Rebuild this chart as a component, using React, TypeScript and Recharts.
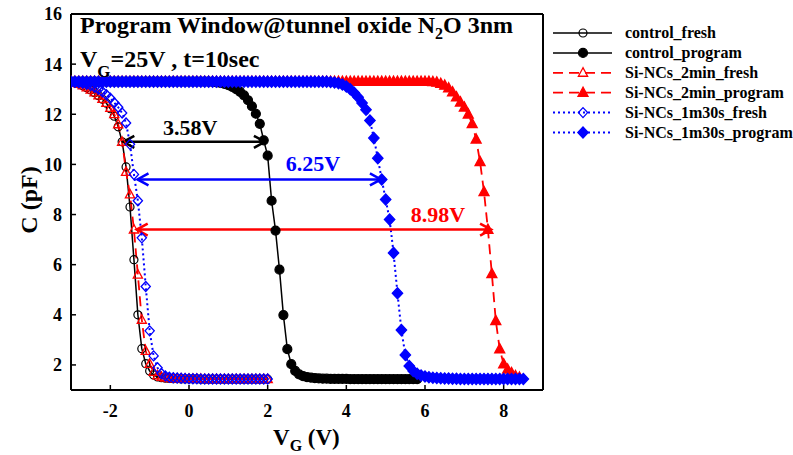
import React from "react";
import { LineChart, Line, XAxis, YAxis, ReferenceLine, ReferenceDot } from "recharts";

const FONT = "'Liberation Serif', 'Times New Roman', serif";

// gate voltage sweep (V), shared by all curves
const vg = [
  -3, -2.9, -2.8, -2.7, -2.6, -2.5, -2.4, -2.3, -2.2, -2.1,
  -2, -1.9, -1.8, -1.7, -1.6, -1.5, -1.4, -1.3, -1.2, -1.1,
  -1, -0.9, -0.8, -0.7, -0.6, -0.5, -0.4, -0.3, -0.2, -0.1,
  0, 0.1, 0.2, 0.3, 0.4, 0.5, 0.6, 0.7, 0.8, 0.9,
  1, 1.1, 1.2, 1.3, 1.4, 1.5, 1.6, 1.7, 1.8, 1.9,
  2, 2.1, 2.2, 2.3, 2.4, 2.5, 2.6, 2.7, 2.8, 2.9,
  3, 3.1, 3.2, 3.3, 3.4, 3.5, 3.6, 3.7, 3.8, 3.9,
  4, 4.1, 4.2, 4.3, 4.4, 4.5, 4.6, 4.7, 4.8, 4.9,
  5, 5.1, 5.2, 5.3, 5.4, 5.5, 5.6, 5.7, 5.8, 5.9,
  6, 6.1, 6.2, 6.3, 6.4, 6.5, 6.6, 6.7, 6.8, 6.9,
  7, 7.1, 7.2, 7.3, 7.4, 7.5, 7.6, 7.7, 7.8, 7.9,
  8, 8.1, 8.2, 8.3, 8.4, 8.5,
];

// capacitance (pF), starting at vg[0]
const controlFresh = [
  13.3, 13.26, 13.21, 13.14, 13.06, 12.97, 12.86, 12.74, 12.6, 12.44,
  12.22, 11.92, 11.5, 10.9, 9.9, 8.3, 6.2, 4.0, 2.65, 2.05,
  1.76, 1.6, 1.52, 1.49, 1.47, 1.46, 1.45, 1.45, 1.44, 1.44,
  1.44, 1.44, 1.44, 1.43, 1.43, 1.43, 1.43, 1.43, 1.43, 1.43,
  1.43, 1.43, 1.43, 1.43, 1.43, 1.43, 1.43, 1.43, 1.43, 1.43,
  1.43,
];

const controlProgram = [
  13.3, 13.3, 13.3, 13.3, 13.3, 13.3, 13.3, 13.3, 13.3, 13.3,
  13.3, 13.3, 13.3, 13.3, 13.3, 13.3, 13.3, 13.3, 13.3, 13.3,
  13.3, 13.3, 13.3, 13.3, 13.3, 13.3, 13.3, 13.3, 13.3, 13.3,
  13.3, 13.3, 13.3, 13.3, 13.3, 13.3, 13.29, 13.27, 13.25, 13.21,
  13.16, 13.09, 13.0, 12.89, 12.75, 12.56, 12.32, 12.02, 11.62, 10.96,
  10.35, 8.55, 7.36, 5.8, 3.99, 2.63, 2.03, 1.76, 1.62, 1.55,
  1.51, 1.49, 1.47, 1.46, 1.45, 1.45, 1.44, 1.44, 1.44, 1.44,
  1.44, 1.43, 1.43, 1.43, 1.43, 1.43, 1.43, 1.43, 1.43, 1.43,
  1.43, 1.43, 1.43, 1.43, 1.43, 1.43, 1.43, 1.43, 1.43,
];

const twoMinFresh = [
  13.3, 13.26, 13.21, 13.15, 13.07, 12.98, 12.87, 12.75, 12.61, 12.45,
  12.25, 12.0, 11.6, 10.9, 9.7, 8.8, 7.4, 5.6, 3.8, 2.56,
  2.04, 1.72, 1.58, 1.52, 1.49, 1.47, 1.46, 1.45, 1.45, 1.44,
  1.44, 1.44, 1.44, 1.44, 1.43, 1.43, 1.43, 1.43, 1.43, 1.43,
  1.43, 1.43, 1.43, 1.43, 1.43, 1.43, 1.43, 1.43, 1.43, 1.43,
  1.43,
];

const twoMinProgram = [
  13.3, 13.3, 13.3, 13.3, 13.3, 13.3, 13.3, 13.3, 13.3, 13.3,
  13.3, 13.3, 13.3, 13.3, 13.3, 13.3, 13.3, 13.3, 13.3, 13.3,
  13.3, 13.3, 13.3, 13.3, 13.3, 13.3, 13.3, 13.3, 13.3, 13.3,
  13.3, 13.3, 13.3, 13.3, 13.3, 13.3, 13.3, 13.3, 13.3, 13.3,
  13.3, 13.3, 13.3, 13.3, 13.3, 13.3, 13.3, 13.3, 13.3, 13.3,
  13.3, 13.3, 13.3, 13.3, 13.3, 13.3, 13.3, 13.3, 13.3, 13.3,
  13.3, 13.3, 13.3, 13.3, 13.3, 13.3, 13.3, 13.3, 13.3, 13.3,
  13.3, 13.3, 13.3, 13.3, 13.3, 13.3, 13.3, 13.3, 13.3, 13.3,
  13.3, 13.3, 13.3, 13.3, 13.3, 13.3, 13.3, 13.3, 13.3, 13.3,
  13.3, 13.3, 13.29, 13.27, 13.22, 13.15, 13.04, 12.88, 12.68, 12.48,
  12.28, 12.0, 11.62, 11.0, 10.1, 8.9, 7.4, 5.63, 3.76, 2.63,
  2.03, 1.82, 1.68, 1.56, 1.5,
];

const oneMinFresh = [
  13.3, 13.29, 13.27, 13.24, 13.2, 13.15, 13.08, 13.0, 12.9, 12.78,
  12.64, 12.46, 12.28, 12.05, 11.65, 10.8, 9.6, 8.55, 7.07, 5.13,
  3.36, 2.36, 1.89, 1.66, 1.56, 1.51, 1.49, 1.48, 1.47, 1.46,
  1.45, 1.45, 1.45, 1.44, 1.44, 1.44, 1.44, 1.44, 1.44, 1.44,
  1.44, 1.44, 1.44, 1.44, 1.44, 1.44, 1.44, 1.44, 1.44, 1.44,
  1.44,
];

const oneMinProgram = [
  13.3, 13.3, 13.3, 13.3, 13.3, 13.3, 13.3, 13.3, 13.3, 13.3,
  13.3, 13.3, 13.3, 13.3, 13.3, 13.3, 13.3, 13.3, 13.3, 13.3,
  13.3, 13.3, 13.3, 13.3, 13.3, 13.3, 13.3, 13.3, 13.3, 13.3,
  13.3, 13.3, 13.3, 13.3, 13.3, 13.3, 13.3, 13.3, 13.3, 13.3,
  13.3, 13.3, 13.3, 13.3, 13.3, 13.3, 13.3, 13.3, 13.3, 13.3,
  13.3, 13.3, 13.3, 13.3, 13.3, 13.3, 13.3, 13.3, 13.3, 13.3,
  13.3, 13.3, 13.3, 13.3, 13.3, 13.3, 13.29, 13.27, 13.24, 13.19,
  13.11, 13.0, 12.86, 12.68, 12.45, 12.18, 11.75, 11.05, 10.25, 9.4,
  8.6, 7.8, 6.47, 4.86, 3.39, 2.4, 1.96, 1.76, 1.65, 1.58,
  1.54, 1.51, 1.49, 1.48, 1.47, 1.46, 1.46, 1.45, 1.45, 1.44,
  1.44, 1.44, 1.44, 1.44, 1.44, 1.44, 1.44, 1.44, 1.44, 1.44,
  1.44, 1.44, 1.44, 1.44, 1.44, 1.44,
];

const xTicks = [-2, 0, 2, 4, 6, 8];
const yTicks = [2, 4, 6, 8, 10, 12, 14, 16];

type MarkerKind = "circle" | "triangle" | "diamond";

interface Series {
  name: string;
  values: number[];
  color: string;
  dash?: string;
  width: number;
  marker: MarkerKind;
  filled: boolean;
}

const series: Series[] = [
  { name: "control_fresh", values: controlFresh, color: "#000000", width: 1.5, marker: "circle", filled: false },
  { name: "control_program", values: controlProgram, color: "#000000", width: 1.5, marker: "circle", filled: true },
  { name: "Si-NCs_2min_fresh", values: twoMinFresh, color: "#ff0000", dash: "10 6", width: 1.8, marker: "triangle", filled: false },
  { name: "Si-NCs_2min_program", values: twoMinProgram, color: "#ff0000", dash: "10 6", width: 1.8, marker: "triangle", filled: true },
  { name: "Si-NCs_1m30s_fresh", values: oneMinFresh, color: "#0000ff", dash: "2 3", width: 2, marker: "diamond", filled: false },
  { name: "Si-NCs_1m30s_program", values: oneMinProgram, color: "#0000ff", dash: "2 3", width: 2, marker: "diamond", filled: true },
];

// program windows: arrow from fresh to programmed curve at a given C
const windows = [
  { label: "3.58V", from: -1.67, to: 1.93, c: 10.9, color: "#000000", textV: 0.03, textC: 11.18 },
  { label: "6.25V", from: -1.31, to: 4.88, c: 9.4, color: "#0000ff", textV: 3.15, textC: 9.74 },
  { label: "8.98V", from: -1.33, to: 7.68, c: 7.4, color: "#ff0000", textV: 6.33, textC: 7.7 },
];

function Marker({ kind, filled, color, cx, cy }: { kind: MarkerKind; filled: boolean; color: string; cx: number; cy: number }) {
  const fill = filled ? color : "none";
  if (kind === "circle") {
    return <circle cx={cx} cy={cy} r={filled ? 4.5 : 4} fill={fill} stroke={color} strokeWidth={1.2} />;
  }
  if (kind === "triangle") {
    const s = filled ? 5 : 4.6;
    const pts = `${cx},${cy - s * 1.1} ${cx - s},${cy + s * 0.75} ${cx + s},${cy + s * 0.75}`;
    return <polygon points={pts} fill={fill} stroke={color} strokeWidth={1.3} />;
  }
  const w = filled ? 5.2 : 4.6;
  const h = filled ? 5.6 : 5;
  const pts = `${cx},${cy - h} ${cx + w},${cy} ${cx},${cy + h} ${cx - w},${cy}`;
  return <polygon points={pts} fill={fill} stroke={color} strokeWidth={1.3} />;
}

const dotFor = (s: Series) => (p: any) => {
  if (p.cx == null || p.cy == null) return <g key={p.index} />;
  return <Marker key={p.index} kind={s.marker} filled={s.filled} color={s.color} cx={p.cx} cy={p.cy} />;
};

const arrowShape = (color: string) => (p: any) => {
  const { x1, y1, x2, y2 } = p;
  const h = 11;
  const w = 6;
  return (
    <g>
      <line x1={x1} y1={y1} x2={x2} y2={y2} stroke={color} strokeWidth={2.5} />
      <polyline points={`${x1 + h},${y1 - w} ${x1},${y1} ${x1 + h},${y1 + w}`} fill="none" stroke={color} strokeWidth={2.5} />
      <polyline points={`${x2 - h},${y2 - w} ${x2},${y2} ${x2 - h},${y2 + w}`} fill="none" stroke={color} strokeWidth={2.5} />
    </g>
  );
};

const tickStyle = { fill: "#000", fontSize: 18, fontWeight: "bold", fontFamily: FONT };
const legendRow0 = 33;
const legendStep = 19.9;

export default function App() {
  return (
    <div style={{ position: "absolute", left: 0, top: 0, width: 793, height: 455, background: "#fff" }}>
      <LineChart width={793} height={455} margin={{ top: 14, right: 250, bottom: 0, left: 0 }}>
        <XAxis
          type="number"
          dataKey="v"
          domain={[-3, 9]}
          ticks={xTicks}
          height={65}
          tickSize={-5}
          tickMargin={19}
          axisLine={{ stroke: "#000", strokeWidth: 2 }}
          tickLine={{ stroke: "#000", strokeWidth: 1.5 }}
          tick={tickStyle}
          allowDataOverflow
        />
        <YAxis
          type="number"
          domain={[1, 16]}
          ticks={yTicks}
          width={71}
          tickSize={-5}
          tickMargin={14}
          axisLine={{ stroke: "#000", strokeWidth: 2 }}
          tickLine={{ stroke: "#000", strokeWidth: 1.5 }}
          tick={tickStyle}
          allowDataOverflow
        />
        <ReferenceLine y={16} stroke="#000" strokeWidth={2} />
        <ReferenceLine x={9} stroke="#000" strokeWidth={2} />
        {series.map((s) => (
          <Line
            key={s.name}
            name={s.name}
            data={s.values.map((c, i) => ({ v: vg[i], c }))}
            dataKey="c"
            type="linear"
            stroke={s.color}
            strokeWidth={s.width}
            strokeDasharray={s.dash}
            dot={dotFor(s)}
            activeDot={false}
            isAnimationActive={false}
          />
        ))}
        {windows.map((w) => (
          <ReferenceLine
            key={w.label}
            segment={[{ x: w.from, y: w.c }, { x: w.to, y: w.c }]}
            shape={arrowShape(w.color)}
          />
        ))}
        {windows.map((w) => (
          <ReferenceDot
            key={w.label + "-t"}
            x={w.textV}
            y={w.textC}
            r={0}
            shape={(p: any) => (
              <text x={p.cx} y={p.cy} textAnchor="middle" fill={w.color} fontFamily={FONT} fontWeight="bold" fontSize={22}>
                {w.label}
              </text>
            )}
          />
        ))}
      </LineChart>
      <svg width={793} height={455} style={{ position: "absolute", left: 0, top: 0, pointerEvents: "none" }} fontFamily={FONT} fontWeight="bold">
        <text x={80} y={33} fontSize={24}>
          Program Window@tunnel oxide N<tspan fontSize={16} dy={6}>2</tspan>
          <tspan dy={-6}>O 3nm</tspan>
        </text>
        <text x={80} y={67} fontSize={24}>
          V<tspan fontSize={17} dy={10}>G</tspan>
          <tspan dy={-10}>=25V , t=10sec</tspan>
        </text>
        <text transform="translate(37,200) rotate(-90)" textAnchor="middle" fontSize={24}>
          C (pF)
        </text>
        <text x={273} y={445} fontSize={23}>
          V<tspan fontSize={16} dy={6}>G</tspan>
          <tspan dy={-6}> (V)</tspan>
        </text>
        {series.map((s, i) => {
          const y = legendRow0 + i * legendStep;
          return (
            <g key={s.name}>
              <line x1={553} y1={y} x2={612} y2={y} stroke={s.color} strokeWidth={s.width} strokeDasharray={s.dash} />
              <Marker kind={s.marker} filled={s.filled} color={s.color} cx={583} cy={y} />
              <text x={625} y={y + 5} fontSize={16}>
                {s.name}
              </text>
            </g>
          );
        })}
      </svg>
    </div>
  );
}
